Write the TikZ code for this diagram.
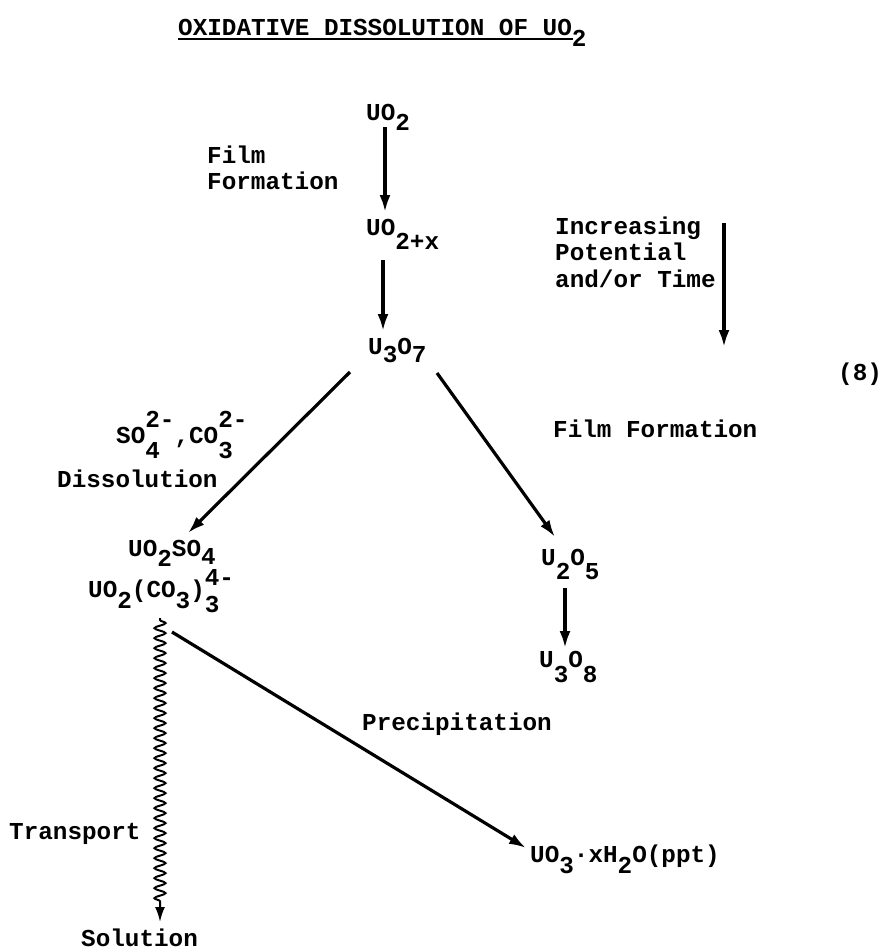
\documentclass[tikz,border=0pt]{standalone}
\usepackage{fontspec}
\setmainfont{Liberation Mono}
\usetikzlibrary{arrows.meta,decorations.pathmorphing}
\newcommand\dn[2][11pt]{\raisebox{-#1}{#2}}
\newcommand\ud[3][16pt]{\rlap{\raisebox{-15pt}{#3}}\raisebox{#1}{#2}}
\newcommand\chemfont{\fontsize{24.3}{26.5}\selectfont\bfseries}
\tikzset{
  arr/.style={line width=3.2pt,-{Latex[length=17pt,width=11pt]}},
  txt/.style={inner sep=0pt,anchor=base west,font=\chemfont,align=left},
  wavy/.style={line width=2pt,-{Latex[length=15pt,width=10pt]},decorate,
    decoration={snake,amplitude=5.5pt,segment length=10pt,post length=17pt,pre length=2pt}}
}
\begin{document}
\begin{tikzpicture}[x=1pt,y=-1pt]
\useasboundingbox (0,0) rectangle (882,951);
% title
\node[txt] (title) at (178,35) {OXIDATIVE DISSOLUTION OF UO\dn{2}};
\draw[line width=1.5pt] ([shift={(0,4)}]title.base west) -- ([shift={(395,4)}]title.base west);
% nodes
\node[txt] (uo2) at (366,120) {UO\dn[10pt]{2}};
\node[txt] (film1) at (207,189.5) {Film\\Formation};
\node[txt] (uo2x) at (366,235) {UO\dn[14pt]{2+x}};
\node[txt] (u3o7) at (368,354) {U\dn[8pt]{3}O\dn[8pt]{7}};
\node[txt] (inc) at (555,287) {Increasing\\Potential\\and/or Time};
\node[txt] (eq) at (838,380) {(8)};
\node[txt] (ions) at (116,443) {SO\ud{2-}{4},CO\ud{2-}{3}};
\node[txt] (diss) at (57,487) {Dissolution};
\node[txt] (film2) at (553,437) {Film Formation};
\node[txt] (uo2so4) at (128,556) {UO\dn[10pt]{2}SO\dn[8pt]{4}};
\node[txt] (uo2co3) at (88,597) {UO\dn{2}(CO\dn{3})\ud[12pt]{4-}{3}};
\node[txt] (u2o5) at (541,565) {U\dn[14pt]{2}O\dn[14pt]{5}};
\node[txt] (u3o8) at (539,667) {U\dn[15pt]{3}O\dn[15pt]{8}};
\node[txt] (precip) at (362,730) {Precipitation};
\node[txt] (ppt) at (530,862) {UO\dn{3}·xH\dn{2}O(ppt)};
\node[txt] (transp) at (9,839) {Transport};
\node[txt] (sol) at (81,946) {Solution};
% connectors
\draw[arr] ([shift={(19,7)}]uo2.base west) -- ([shift={(19,-23)}]uo2x.base west);
\draw[arr] ([shift={(17,25)}]uo2x.base west) -- ([shift={(15,-23)}]u3o7.base west);
\draw[arr] ([shift={(169,-64)}]inc.base west) -- ([shift={(169,60)}]inc.base west);
\draw[arr] ([shift={(-18,18)}]u3o7.base west) -- ([shift={(60,-23)}]uo2so4.base west);
\draw[arr] ([shift={(69,19)}]u3o7.base west) -- ([shift={(14,-28)}]u2o5.base west);
\draw[arr] ([shift={(24,23)}]u2o5.base west) -- ([shift={(26,-19)}]u3o8.base west);
\draw[arr] ([shift={(84,35)}]uo2co3.base west) -- ([shift={(-4,-14)}]ppt.base west);
\draw[wavy] ([shift={(72,21)}]uo2co3.base west) -- ([shift={(79,-24)}]sol.base west);
\end{tikzpicture}
\end{document}
